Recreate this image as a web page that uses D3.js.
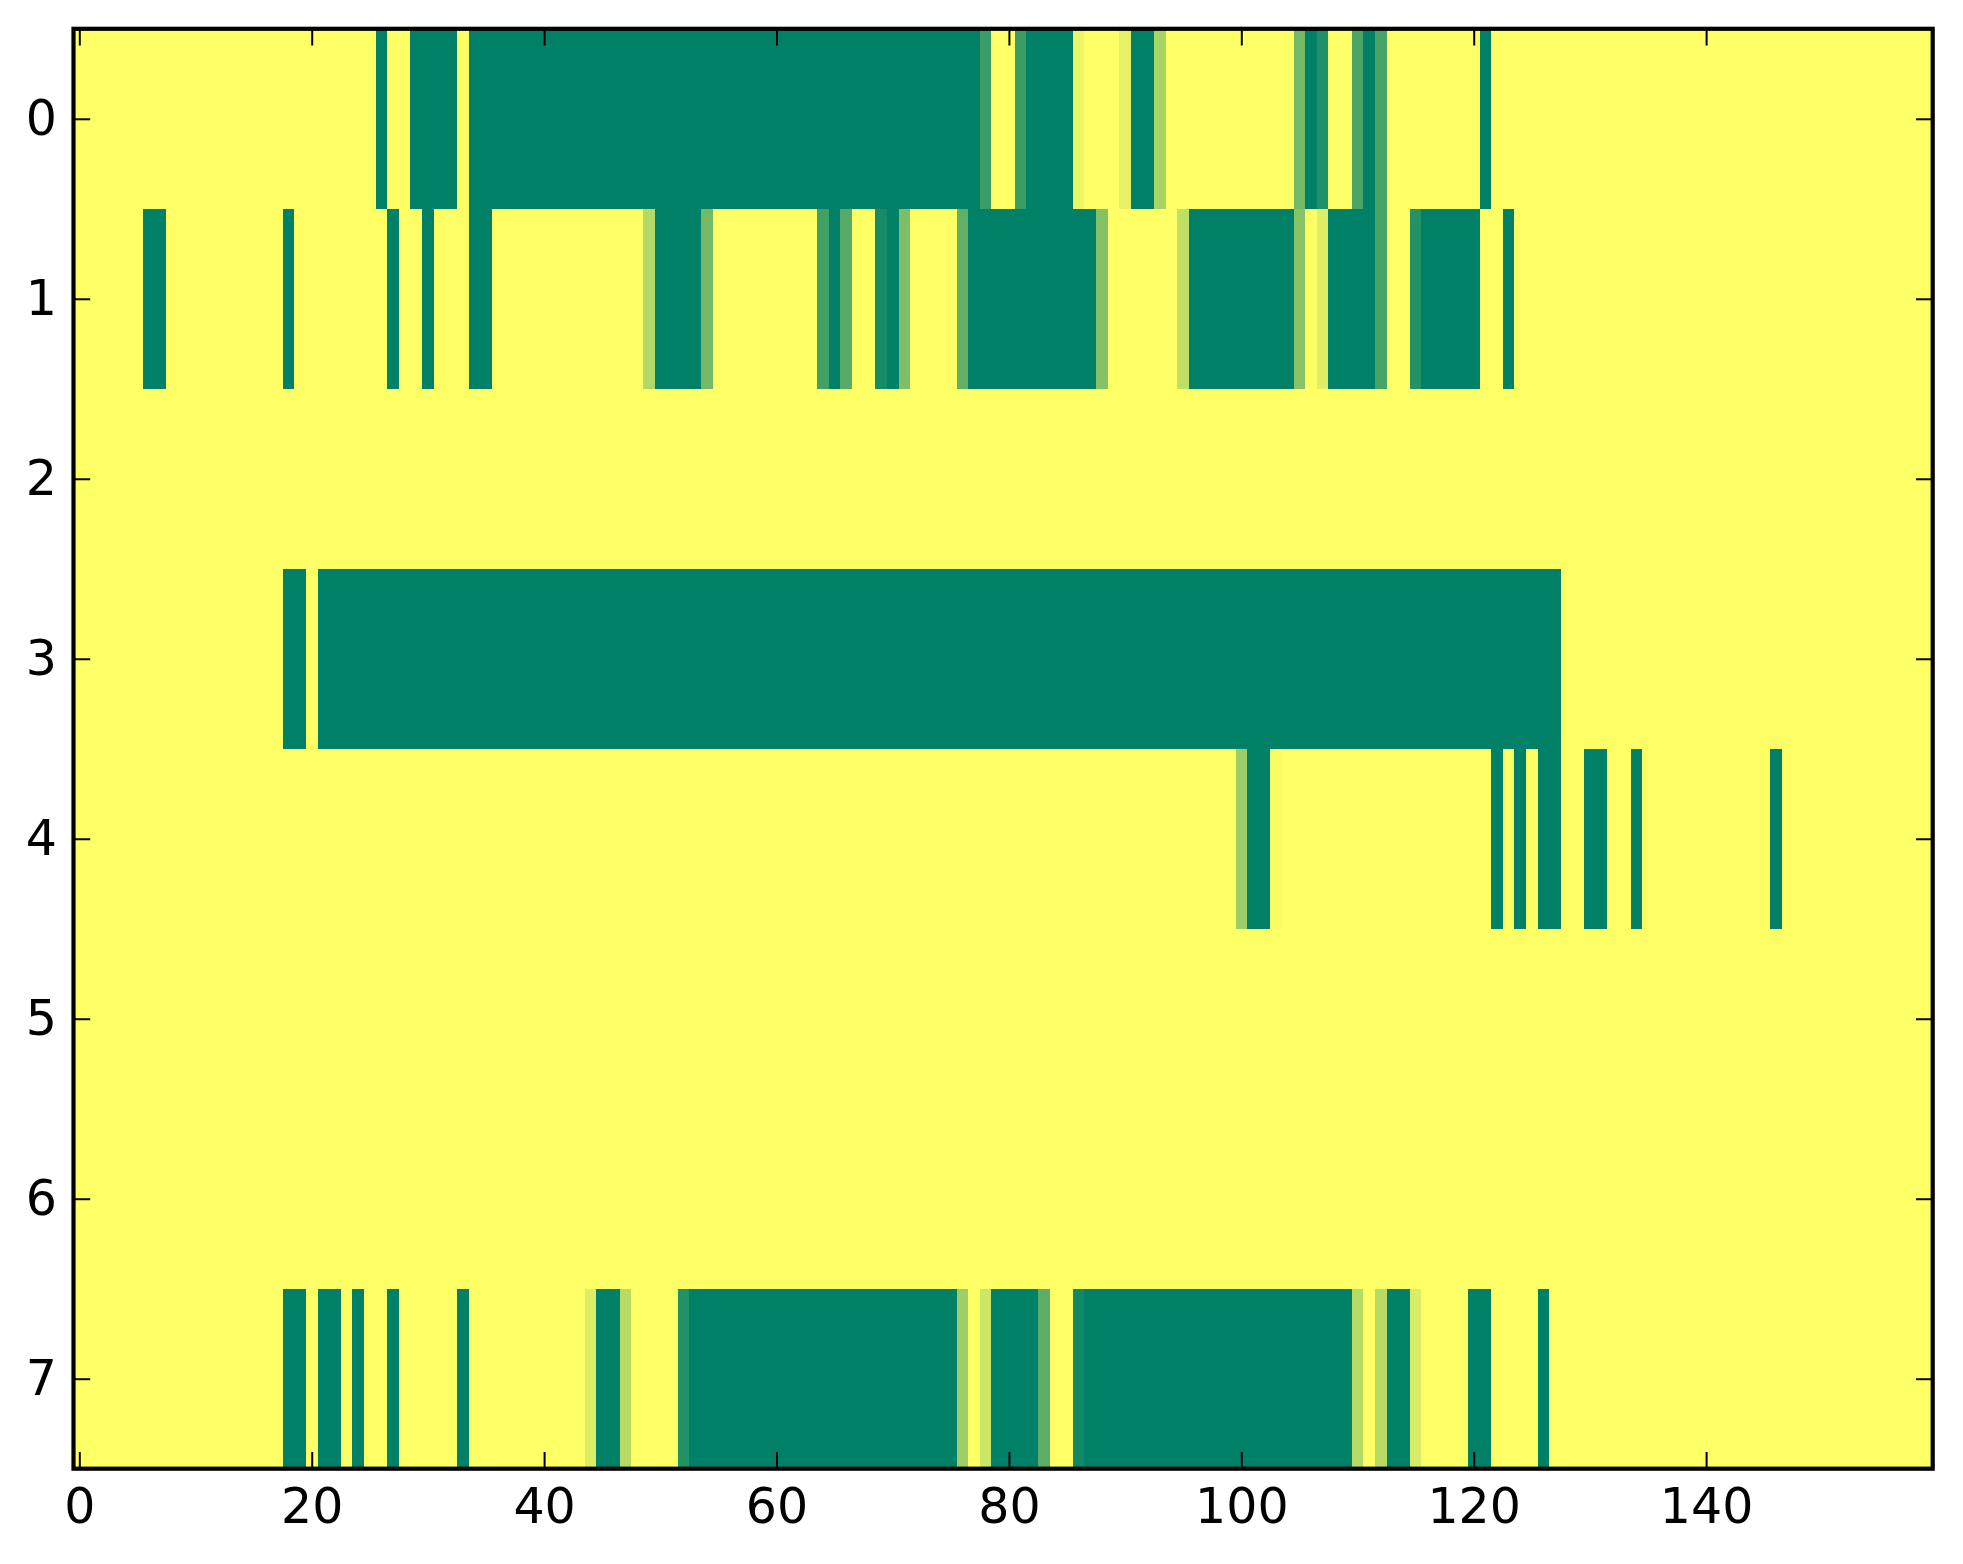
<!DOCTYPE html>
<html>
<head>
<meta charset="utf-8">
<script src="https://cdn.jsdelivr.net/npm/d3@7"></script>
<style>
  body { margin: 0; background: #fff; }
  .axis text { font-family: "DejaVu Sans", sans-serif; font-size: 49px; fill: #000; }
  .axis line { stroke: #000; stroke-width: 2; }
  .axis path { display: none; }
</style>
</head>
<body>
<div id="chart"></div>
<script>
// each row: runs of [firstCol, lastCol, value], cells not listed are 0
var row0 = [[26,26,1],[29,32,1],[34,77,1],[78,78,0.77],[81,81,0.77],[82,85,1],[86,86,0.07],
            [90,90,0.1],[91,92,1],[93,93,0.34],[105,105,0.55],[106,106,1],[107,107,0.88],
            [110,110,0.71],[111,111,1],[112,112,0.72],[121,121,1]];
var row1 = [[6,7,1],[18,18,1],[27,27,1],[30,30,1],[34,35,1],[49,49,0.3],[50,53,1],[54,54,0.55],
            [64,64,0.75],[65,65,1],[66,66,0.66],[69,69,0.91],[70,70,1],[71,71,0.51],
            [76,76,0.62],[77,87,1],[88,88,0.48],[95,95,0.25],[96,104,1],[105,105,0.47],
            [107,107,0.13],[108,111,1],[112,112,0.72],[115,115,0.86],[116,120,1],[123,123,1]];
var row2 = [];
var row3 = [[18,19,1],[21,127,1]];
var row4 = [[100,100,0.39],[101,102,1],[103,103,0.02],[122,122,1],[124,124,1],[126,127,1],
            [130,131,1],[134,134,1],[146,146,1]];
var row5 = [];
var row6 = [];
var row7 = [[18,19,1],[21,22,1],[24,24,1],[27,27,1],[33,33,1],[44,44,0.14],[45,46,1],[47,47,0.28],
            [52,52,0.87],[53,75,1],[76,76,0.38],[78,78,0.2],[79,82,1],[83,83,0.64],[86,86,0.93],
            [87,109,1],[110,110,0.28],[112,112,0.28],[113,114,1],[115,115,0.15],[120,121,1],[126,126,1]];

var rows = [row0, row1, row2, row3, row4, row5, row6, row7];
var nCols = 160;
var xTicks = [0, 20, 40, 60, 80, 100, 120, 140];
var yTicks = [0, 1, 2, 3, 4, 5, 6, 7];

// build the full grid
var cells = [];
rows.forEach(function (runs, r) {
    var vals = new Array(nCols).fill(0);
    runs.forEach(function (run) {
        for (var c = run[0]; c <= run[1]; c++) vals[c] = run[2];
    });
    vals.forEach(function (v, c) { cells.push({ row: r, col: c, value: v }); });
});

var W = 1963, H = 1564;
var plotLeft = 73.5, plotRight = 1932.7, plotTop = 28.8, plotBottom = 1468.7;

var svg = d3.select("#chart").append("svg")
    .attr("width", W)
    .attr("height", H);

var x = d3.scaleLinear().domain([-0.5, nCols - 0.5]).range([plotLeft, plotRight]);
var y = d3.scaleLinear().domain([-0.5, rows.length - 0.5]).range([plotTop, plotBottom]);
// summer_r
var color = d3.scaleLinear().domain([0, 1]).range(["#ffff66", "#008066"]);

svg.append("g")
    .attr("shape-rendering", "crispEdges")
    .selectAll("rect")
    .data(cells)
    .enter().append("rect")
    .attr("x", function (d) { return x(d.col - 0.5); })
    .attr("y", function (d) { return y(d.row - 0.5); })
    .attr("width", function (d) { return x(d.col + 0.5) - x(d.col - 0.5) + 0.5; })
    .attr("height", function (d) { return y(d.row + 0.5) - y(d.row - 0.5) + 0.5; })
    .style("fill", function (d) { return color(d.value); });

var tick = 16.7;

svg.append("g")
    .attr("class", "axis")
    .attr("transform", "translate(0," + plotBottom + ")")
    .call(d3.axisBottom(x).tickValues(xTicks).tickSize(-tick).tickPadding(20));

svg.append("g")
    .attr("class", "axis")
    .attr("transform", "translate(0," + plotTop + ")")
    .call(d3.axisTop(x).tickValues(xTicks).tickSize(-tick).tickFormat(""));

svg.append("g")
    .attr("class", "axis")
    .attr("transform", "translate(" + plotLeft + ",0)")
    .call(d3.axisLeft(y).tickValues(yTicks).tickSize(-tick).tickPadding(16.5));

svg.append("g")
    .attr("class", "axis")
    .attr("transform", "translate(" + plotRight + ",0)")
    .call(d3.axisRight(y).tickValues(yTicks).tickSize(-tick).tickFormat(""));

// frame
svg.append("rect")
    .attr("x", plotLeft)
    .attr("y", plotTop)
    .attr("width", plotRight - plotLeft)
    .attr("height", plotBottom - plotTop)
    .style("fill", "none")
    .style("stroke", "#000")
    .style("stroke-width", 4.2);
</script>
</body>
</html>
